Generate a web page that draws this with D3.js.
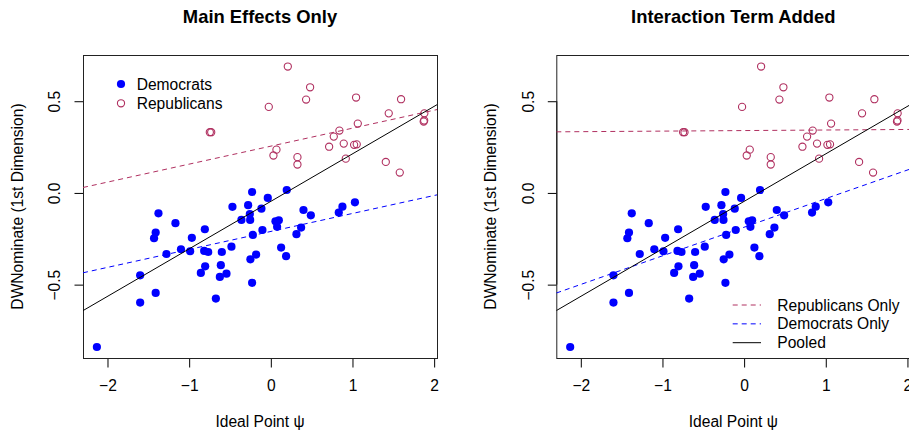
<!DOCTYPE html>
<html>
<head>
<meta charset="utf-8">
<script src="https://cdn.jsdelivr.net/npm/d3@7"></script>
<style>
  body { margin: 0; background: #fff; }
  text { font-family: "Liberation Sans", Arial, Helvetica, sans-serif; fill: #000; }
</style>
</head>
<body>
<script>
// Democrats: ideal point (x) and DWNominate (y)
var demX = [-2.13, -1.60, -1.60, -1.41, -1.43, -1.41, -1.376, -1.278, -1.168, -1.10,
  -0.988, -0.967, -0.808, -0.816, -0.767, -0.804, -0.857, -0.673, -0.60, -0.612,
  -0.624, -0.543, -0.482, -0.47, -0.36, -0.278, -0.257, -0.253, -0.229, -0.22,
  -0.115, -0.103, -0.037, -0.18, -0.25, -0.229, 0.057, 0.098, 0.077, 0.126,
  0.187, 0.195, 0.314, 0.371, 0.40, 0.49, 0.832, 0.877, 1.03];
var demY = [-0.84, -0.449, -0.598, -0.545, -0.247, -0.216, -0.111, -0.333, -0.165, -0.307,
  -0.318, -0.245, -0.198, -0.316, -0.322, -0.40, -0.436, -0.576, -0.322, -0.394,
  -0.458, -0.44, -0.293, -0.076, -0.147, -0.067, -0.115, -0.147, 0.005, -0.229,
  -0.086, -0.202, -0.027, -0.336, -0.362, -0.49, -0.155, -0.149, -0.185, -0.298,
  -0.345, 0.016, -0.225, -0.189, -0.093, -0.122, -0.107, -0.075, -0.051];

// Republicans
var repX = [0.208, 0.481, 0.432, -0.025, 1.044, 1.595, 1.444, 1.88, 1.872, 1.878,
  -0.747, -0.73, 0.069, 0.032, 0.326, 0.326, 0.714, 0.771, 0.84, 0.893,
  1.02, 1.052, 1.065, 0.918, 1.408, 1.579];
var repY = [0.689, 0.576, 0.509, 0.469, 0.520, 0.511, 0.434, 0.434, 0.389, 0.395,
  0.331, 0.331, 0.236, 0.204, 0.195, 0.155, 0.252, 0.307, 0.34, 0.269,
  0.262, 0.265, 0.378, 0.187, 0.169, 0.111];

// fitted lines per panel: [intercept, slope]
var panelTitles = ["Main Effects Only", "Interaction Term Added"];
var pooledFit = [[-0.046, 0.259], [-0.046, 0.259]];
var repFit = [[0.255, 0.098], [0.34, 0.003]];
var demFit = [[-0.21, 0.098], [-0.187, 0.156]];

var xTicks = [-2, -1, 0, 1, 2];
var yTicks = [-0.5, 0, 0.5];
var legendLeft = ["Democrats", "Republicans"];
var legendRight = ["Republicans Only", "Democrats Only", "Pooled"];

var width = 909, height = 432;
var blue = "#0000ff", maroon = "#b03060";
var fontSize = "15.6px";

var svg = d3.select("body").append("svg")
  .attr("width", width)
  .attr("height", height);

var panelOffset = 473.3;
var box = {left: 83, right: 437, top: 55, bottom: 358};

var x = d3.scaleLinear().domain([-2.30, 2.035]).range([box.left, box.right]);
var y = d3.scaleLinear().domain([-0.90, 0.752]).range([box.bottom, box.top]);

var dems = demX.map(function (d, i) { return {x: d, y: demY[i]}; });
var reps = repX.map(function (d, i) { return {x: d, y: repY[i]}; });

svg.append("defs").append("clipPath").attr("id", "plotclip")
  .append("rect")
  .attr("x", box.left).attr("y", box.top)
  .attr("width", box.right - box.left).attr("height", box.bottom - box.top);

panelTitles.forEach(function (title, p) {
  var g = svg.append("g").attr("transform", "translate(" + (p * panelOffset) + ",0)");

  // title
  g.append("text")
    .attr("x", (box.left + box.right) / 2)
    .attr("y", 23)
    .attr("text-anchor", "middle")
    .attr("font-weight", "bold")
    .attr("font-size", "18.4px")
    .text(title);

  // x axis
  var xa = g.append("g").attr("transform", "translate(0," + (box.bottom + 0.5) + ")")
    .call(d3.axisBottom(x).tickValues(xTicks).tickSize(9).tickPadding(12).tickFormat(d3.format("d")));
  xa.select(".domain").remove();
  xa.append("line").attr("x1", x(-2)).attr("x2", x(2)).attr("stroke", "#000");
  xa.selectAll("text").attr("font-size", fontSize).attr("fill", "#000").attr("font-family", null);

  // y axis, labels rotated as in base R
  var ya = g.append("g").attr("transform", "translate(" + (box.left + 0.5) + ",0)")
    .call(d3.axisLeft(y).tickValues(yTicks).tickSize(9).tickFormat(d3.format(".1f")));
  ya.select(".domain").remove();
  ya.append("line").attr("y1", y(-0.5)).attr("y2", y(0.5)).attr("stroke", "#000");
  ya.selectAll("text")
    .attr("font-size", fontSize).attr("fill", "#000").attr("font-family", null)
    .attr("x", null).attr("y", null).attr("dy", "0.35em")
    .attr("text-anchor", "middle")
    .attr("transform", "translate(" + (55 - box.left - 0.5) + ",0) rotate(-90)");

  // axis titles
  g.append("text")
    .attr("x", (box.left + box.right) / 2)
    .attr("y", 427)
    .attr("text-anchor", "middle")
    .attr("font-size", fontSize)
    .text("Ideal Point \u03c8");
  g.append("text")
    .attr("transform", "translate(23," + ((box.top + box.bottom) / 2) + ") rotate(-90)")
    .attr("text-anchor", "middle")
    .attr("font-size", fontSize)
    .text("DWNominate (1st Dimension)");

  // plot box
  g.append("rect")
    .attr("x", box.left + 0.5).attr("y", box.top + 0.5)
    .attr("width", box.right - box.left).attr("height", box.bottom - box.top)
    .attr("fill", "none").attr("stroke", "#222");

  var plot = g.append("g").attr("clip-path", "url(#plotclip)");

  // points
  plot.selectAll("circle.rep").data(reps).enter().append("circle")
    .attr("class", "rep")
    .attr("cx", function (d) { return x(d.x); })
    .attr("cy", function (d) { return y(d.y); })
    .attr("r", 3.6)
    .attr("fill", "none")
    .attr("stroke", maroon)
    .attr("stroke-width", 1.1);
  plot.selectAll("circle.dem").data(dems).enter().append("circle")
    .attr("class", "dem")
    .attr("cx", function (d) { return x(d.x); })
    .attr("cy", function (d) { return y(d.y); })
    .attr("r", 4.1)
    .attr("fill", blue);

  // fitted lines
  function fitLine(fit, color, dash) {
    var xs = x.domain();
    plot.append("line")
      .attr("x1", x(xs[0])).attr("y1", y(fit[0] + fit[1] * xs[0]))
      .attr("x2", x(xs[1])).attr("y2", y(fit[0] + fit[1] * xs[1]))
      .attr("stroke", color)
      .attr("stroke-width", 1)
      .attr("stroke-dasharray", dash);
  }
  fitLine(repFit[p], maroon, "5,4");
  fitLine(demFit[p], blue, "5,4");
  fitLine(pooledFit[p], "#000", null);
});

// legend, left panel
var legL = svg.append("g").selectAll("g").data(legendLeft).enter().append("g")
  .attr("transform", function (d, i) { return "translate(121," + (84 + i * 19.3) + ")"; });
legL.append("circle")
  .attr("r", function (d, i) { return i === 0 ? 4.1 : 3.6; })
  .attr("fill", function (d, i) { return i === 0 ? blue : "none"; })
  .attr("stroke", function (d, i) { return i === 0 ? null : maroon; })
  .attr("stroke-width", 1.1);
legL.append("text")
  .attr("x", 15.7)
  .attr("y", 5.5)
  .attr("font-size", fontSize)
  .text(function (d) { return d; });

// legend, right panel
var legStyles = [[maroon, "5,4"], [blue, "5,4"], ["#000", null]];
var legR = svg.append("g").selectAll("g").data(legendRight).enter().append("g")
  .attr("transform", function (d, i) { return "translate(732.7," + (305 + i * 18.85) + ")"; });
legR.append("line")
  .attr("x1", 0).attr("x2", 28.3)
  .attr("stroke", function (d, i) { return legStyles[i][0]; })
  .attr("stroke-dasharray", function (d, i) { return legStyles[i][1]; });
legR.append("text")
  .attr("x", 44.6)
  .attr("y", 5.5)
  .attr("font-size", fontSize)
  .text(function (d) { return d; });
</script>
</body>
</html>
